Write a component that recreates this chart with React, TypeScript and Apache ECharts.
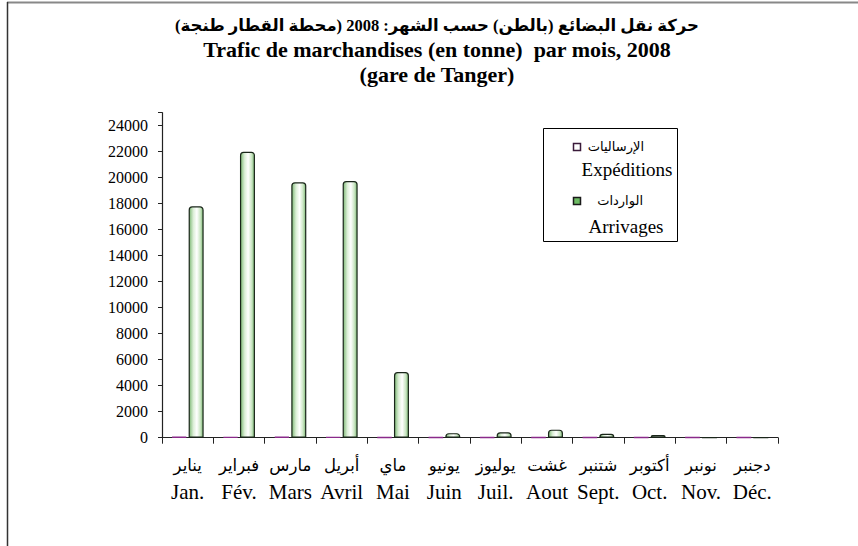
import React, { useEffect, useRef } from 'react';
import * as echarts from 'echarts';

// ---- data ----
const monthsFr = ['Jan.', 'Fév.', 'Mars', 'Avril', 'Mai', 'Juin', 'Juil.', 'Aout', 'Sept.', 'Oct.', 'Nov.', 'Déc.'];
const monthsAr = ['يناير', 'فبراير', 'مارس', 'أبريل', 'ماي', 'يونيو', 'يوليوز', 'غشت', 'شتنبر', 'أكتوبر', 'نونبر', 'دجنبر'];
const expeditions = [60, 50, 60, 50, 40, 30, 40, 30, 30, 20, 20, 20];
const arrivages = [17800, 22000, 19650, 19750, 5050, 350, 420, 620, 300, 200, 0, 0];
const seriesNamesAr = ['الإرساليات', 'الواردات'];
const seriesNamesFr = ['Expéditions', 'Arrivages'];
const titleLines = [
  'حركة نقل البضائع (بالطن) حسب الشهر: 2008 (محطة القطار طنجة)\u200F',
  'Trafic de marchandises (en tonne)  par mois, 2008',
  '(gare de Tanger)',
];
const yMin = 0;
const yMax = 25000;
const yInterval = 2000;

const SERIF = "'Liberation Serif', 'DejaVu Sans', serif";

export default function App() {
  const ref = useRef<HTMLDivElement>(null);

  useEffect(() => {
    const chart = echarts.init(ref.current!, null, { renderer: 'svg' });

    const greenGrad = new echarts.graphic.LinearGradient(0, 0, 1, 0, [
      { offset: 0, color: '#7fb977' },
      { offset: 0.3, color: '#dcefd7' },
      { offset: 0.55, color: '#ffffff' },
      { offset: 0.8, color: '#cce7c5' },
      { offset: 1, color: '#7fb977' },
    ]);

    const option: any = {
      animation: false,
      backgroundColor: '#ffffff',
      title: {
        text: `{ar|${titleLines[0]}}\n{fr|${titleLines[1]}}\n{fr|${titleLines[2]}}`,
        left: 432,
        textAlign: 'center',
        top: 8,
        textStyle: {
          rich: {
            ar: { fontFamily: SERIF, fontWeight: 'bold', fontSize: 16.5, lineHeight: 24.5, color: '#000' },
            fr: { fontFamily: SERIF, fontWeight: 'bold', fontSize: 22, lineHeight: 24.5, color: '#000' },
          },
        },
      },
      grid: { left: 162, right: 80, top: 112.7, bottom: 108.3, containLabel: false },
      xAxis: {
        type: 'category',
        data: monthsFr,
        axisLine: { lineStyle: { color: '#222', width: 1.2 } },
        axisTick: { show: true, length: 6, lineStyle: { color: '#222' } },
        axisLabel: {
          margin: 15,
          interval: 0,
          formatter: (value: string, index: number) => `{ar|${monthsAr[index]}}\n{fr|${value}}`,
          rich: {
            ar: { fontFamily: SERIF, fontSize: 16.5, lineHeight: 26, color: '#000' },
            fr: { fontFamily: SERIF, fontSize: 21, lineHeight: 26, color: '#000' },
          },
        },
      },
      yAxis: {
        type: 'value',
        min: yMin,
        max: yMax,
        interval: yInterval,
        splitLine: { show: false },
        axisLine: { show: true, lineStyle: { color: '#222', width: 1.2 } },
        axisTick: { show: true, length: 4, lineStyle: { color: '#222' } },
        axisLabel: {
          margin: 14,
          fontFamily: SERIF,
          fontSize: 16,
          color: '#000',
          formatter: (v: number) => (v % yInterval === 0 ? String(v) : ''),
        },
      },
      series: [
        {
          name: seriesNamesAr[0],
          type: 'bar',
          data: expeditions,
          barWidth: 15,
          barGap: '13%',
          itemStyle: { color: '#e8c8e8', borderColor: '#8a2a8a', borderWidth: 1.4 },
        },
        {
          name: seriesNamesAr[1],
          type: 'bar',
          data: arrivages,
          barWidth: 15,
          barGap: '13%',
          itemStyle: {
            color: greenGrad,
            borderColor: '#1a261a',
            borderWidth: 1.2,
            borderRadius: [3, 3, 0, 0],
          },
        },
      ],
      graphic: [
        // frame lines
        { type: 'line', shape: { x1: 7, y1: 2.5, x2: 858, y2: 2.5 }, style: { stroke: '#888', lineWidth: 2 } },
        { type: 'line', shape: { x1: 7.5, y1: 2, x2: 7.5, y2: 546 }, style: { stroke: '#333', lineWidth: 1.5 } },
        // legend box
        {
          type: 'rect',
          shape: { x: 543.5, y: 128.5, width: 134, height: 113 },
          style: { fill: '#fff', stroke: '#000', lineWidth: 1 },
          z: 10,
        },
        {
          type: 'rect',
          shape: { x: 573.5, y: 143.5, width: 7, height: 7 },
          style: { fill: '#fff', stroke: '#3a1a3a', lineWidth: 1.5 },
          z: 11,
        },
        {
          type: 'text',
          x: 644,
          y: 146,
          style: { text: seriesNamesAr[0], font: `13px ${SERIF}`, fill: '#000', align: 'right', verticalAlign: 'middle' },
          z: 11,
        },
        {
          type: 'text',
          x: 627,
          y: 169,
          style: { text: seriesNamesFr[0], font: `19px ${SERIF}`, fill: '#000', align: 'center', verticalAlign: 'middle' },
          z: 11,
        },
        {
          type: 'rect',
          shape: { x: 573.5, y: 197.5, width: 7, height: 7 },
          style: { fill: '#6dbb63', stroke: '#1a1a1a', lineWidth: 1.5 },
          z: 11,
        },
        {
          type: 'text',
          x: 643,
          y: 200,
          style: { text: seriesNamesAr[1], font: `13px ${SERIF}`, fill: '#000', align: 'right', verticalAlign: 'middle' },
          z: 11,
        },
        {
          type: 'text',
          x: 626,
          y: 226,
          style: { text: seriesNamesFr[1], font: `19px ${SERIF}`, fill: '#000', align: 'center', verticalAlign: 'middle' },
          z: 11,
        },
      ],
    };

    chart.setOption(option);
    return () => chart.dispose();
  }, []);

  return (
    <div
      ref={ref}
      style={{ position: 'fixed', left: 0, top: 0, width: 858, height: 546, background: '#fff' }}
    />
  );
}
